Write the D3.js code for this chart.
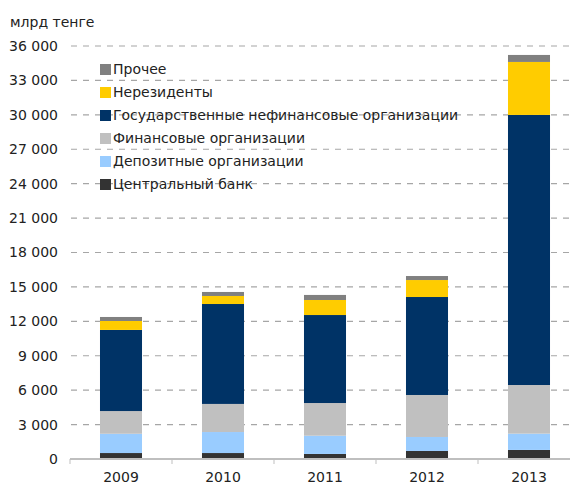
<!DOCTYPE html>
<html><head><meta charset="utf-8">
<script src="https://cdn.jsdelivr.net/npm/d3@7"></script>
<style>body{margin:0;background:#fff}svg{display:block}</style>
</head><body>
<script>
const years = ["2009","2010","2011","2012","2013"];
const seriesNames = ["Центральный банк","Депозитные организации","Финансовые организации","Государственные нефинансовые организации","Нерезиденты","Прочее"];
const seriesColors = ["#333333","#99CCFF","#C0C0C0","#003366","#FFCC00","#808080"];
const centralBank = [520, 520, 440, 700, 790];
const depository = [1680, 1830, 1590, 1220, 1420];
const financial = [1980, 2450, 2850, 3660, 4240];
const stateNonfin = [7070, 8710, 7670, 8540, 23540];
const nonresidents = [780, 700, 1310, 1480, 4620];
const other = [350, 350, 440, 350, 610];
const yTicks = [0,3000,6000,9000,12000,15000,18000,21000,24000,27000,30000,33000,36000];
const unitLabel = "млрд тенге";

const W = 570, H = 485;
const svg = d3.select("body").append("svg").attr("width", W).attr("height", H);
const font = "DejaVu Sans, Verdana, sans-serif";

const x = d3.scaleBand().domain(years).range([70, 580]).paddingInner(0.588).paddingOuter(0.294);
const y = d3.scaleLinear().domain([0, 36000]).range([459, 46]);

// gridlines
svg.append("g").selectAll("line").data(yTicks.filter(d => d > 0)).join("line")
  .attr("x1", 71).attr("x2", 570).attr("y1", d => y(d)).attr("y2", d => y(d))
  .attr("stroke", "#a6a6a6").attr("stroke-width", 1.2).attr("stroke-dasharray", "6,6");

// y axis labels
const yAxis = d3.axisLeft(y).tickValues(yTicks).tickSize(0).tickPadding(0)
  .tickFormat(d => d3.format(",")(d).replace(/,/g, " "));
const ya = svg.append("g").attr("transform", "translate(58,0)").call(yAxis);
ya.select(".domain").remove();
ya.selectAll("text").attr("font-family", font).attr("font-size", 14).attr("fill", "#222");

// stacks
const rows = years.map((yr, i) => ({year: yr, s0: centralBank[i], s1: depository[i], s2: financial[i], s3: stateNonfin[i], s4: nonresidents[i], s5: other[i]}));
const stack = d3.stack().keys(["s0","s1","s2","s3","s4","s5"])(rows);
svg.append("g").selectAll("g").data(stack).join("g").attr("fill", (d, i) => seriesColors[i])
  .selectAll("rect").data(d => d).join("rect")
  .attr("x", d => x(d.data.year)).attr("width", x.bandwidth())
  .attr("y", d => y(d[1])).attr("height", d => y(d[0]) - y(d[1]));

// x axis
const xa = svg.append("g").attr("transform", "translate(0,459)");
xa.append("line").attr("x1", 70).attr("x2", 570).attr("stroke", "#bfbfbf").attr("stroke-width", 2);
const bounds = d3.range(years.length + 1).map(i => 70 + i * x.step());
xa.selectAll("line.tk").data(bounds.filter(b => b <= 570)).join("line").attr("class", "tk")
  .attr("x1", d => d).attr("x2", d => d).attr("y1", 0).attr("y2", 5).attr("stroke", "#bfbfbf");
xa.selectAll("text").data(years).join("text")
  .attr("x", d => x(d) + x.bandwidth() / 2).attr("y", 23).attr("text-anchor", "middle")
  .attr("font-family", font).attr("font-size", 14).attr("fill", "#222").text(d => d);

// unit label
svg.append("text").attr("x", 10).attr("y", 27).attr("font-family", font).attr("font-size", 14).attr("fill", "#222").text(unitLabel);

// legend
const legendOrder = [5,4,3,2,1,0];
const lg = svg.append("g").selectAll("g").data(legendOrder).join("g")
  .attr("transform", (d, i) => `translate(100,${69 + i * 23})`);
lg.append("rect").attr("x", 0).attr("y", -5).attr("width", 11).attr("height", 11).attr("fill", d => seriesColors[d]);
lg.append("text").attr("x", 13).attr("y", 5).attr("font-family", font).attr("font-size", 14).attr("fill", "#222").text(d => seriesNames[d]);
</script>
</body></html>
